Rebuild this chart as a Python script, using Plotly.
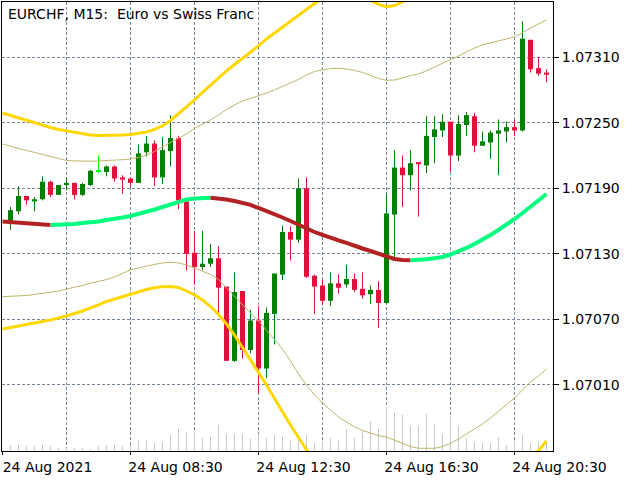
import plotly.graph_objects as go

# bar numbers (15 min bars), candle data
bars = list(range(1, 69))
opens = [1.07160, 1.07169, 1.07183, 1.07178, 1.07180, 1.07196, 1.07184, 1.07193, 1.07195, 1.07184,
         1.07193, 1.07205, 1.07205, 1.07210, 1.07200, 1.07199, 1.07195, 1.07223, 1.07231, 1.07200,
         1.07224, 1.07236, 1.07178, 1.07131, 1.07118, 1.07121, 1.07126, 1.07100, 1.07032, 1.07096,
         1.07042, 1.07069, 1.07025, 1.07075, 1.07111, 1.07150, 1.07143, 1.07190, 1.07110, 1.07101,
         1.07087, 1.07103, 1.07102, 1.07107, 1.07098, 1.07093, 1.07097, 1.07085, 1.07166, 1.07209,
         1.07202, 1.07214, 1.07211, 1.07237, 1.07243, 1.07251, 1.07220, 1.07248, 1.07256, 1.07229,
         1.07232, 1.07240, 1.07242, 1.07246, 1.07243, 1.07326, 1.07300, 1.07296]
highs = [1.07173, 1.07192, 1.07183, 1.07182, 1.07201, 1.07197, 1.07193, 1.07200, 1.07195, 1.07195,
         1.07207, 1.07220, 1.07211, 1.07211, 1.07202, 1.07199, 1.07230, 1.07238, 1.07234, 1.07237,
         1.07257, 1.07238, 1.07179, 1.07151, 1.07151, 1.07139, 1.07137, 1.07100, 1.07113, 1.07096,
         1.07079, 1.07082, 1.07081, 1.07112, 1.07156, 1.07155, 1.07199, 1.07200, 1.07111, 1.07106,
         1.07113, 1.07111, 1.07120, 1.07112, 1.07113, 1.07101, 1.07105, 1.07185, 1.07225, 1.07220,
         1.07225, 1.07214, 1.07256, 1.07256, 1.07258, 1.07251, 1.07257, 1.07260, 1.07259, 1.07242,
         1.07243, 1.07253, 1.07251, 1.07253, 1.07343, 1.07326, 1.07310, 1.07299]
lows = [1.07152, 1.07166, 1.07175, 1.07169, 1.07179, 1.07182, 1.07184, 1.07188, 1.07180, 1.07183,
        1.07192, 1.07204, 1.07201, 1.07196, 1.07185, 1.07191, 1.07195, 1.07219, 1.07192, 1.07194,
        1.07210, 1.07171, 1.07115, 1.07102, 1.07115, 1.07118, 1.07076, 1.07032, 1.07031, 1.07034,
        1.07039, 1.07002, 1.07016, 1.07047, 1.07106, 1.07124, 1.07140, 1.07108, 1.07075, 1.07083,
        1.07082, 1.07094, 1.07099, 1.07095, 1.07089, 1.07084, 1.07062, 1.07084, 1.07124, 1.07173,
        1.07188, 1.07164, 1.07204, 1.07213, 1.07237, 1.07205, 1.07215, 1.07238, 1.07223, 1.07229,
        1.07217, 1.07202, 1.07232, 1.07238, 1.07242, 1.07296, 1.07293, 1.07287]
closes = [1.07170, 1.07183, 1.07179, 1.07180, 1.07196, 1.07184, 1.07193, 1.07195, 1.07184, 1.07194,
          1.07206, 1.07205, 1.07210, 1.07199, 1.07198, 1.07195, 1.07222, 1.07231, 1.07200, 1.07225,
          1.07236, 1.07179, 1.07130, 1.07118, 1.07121, 1.07126, 1.07099, 1.07032, 1.07095, 1.07042,
          1.07069, 1.07025, 1.07076, 1.07112, 1.07150, 1.07143, 1.07190, 1.07109, 1.07100, 1.07087,
          1.07103, 1.07099, 1.07107, 1.07097, 1.07092, 1.07097, 1.07085, 1.07167, 1.07209, 1.07202,
          1.07213, 1.07212, 1.07238, 1.07244, 1.07251, 1.07220, 1.07249, 1.07257, 1.07229, 1.07233,
          1.07241, 1.07243, 1.07246, 1.07243, 1.07327, 1.07299, 1.07295, 1.07294]
volumes = [240, 280, 200, 200, 280, 200, 120, 120, 120, 120, 80, 200, 240, 280, 200, 240, 440, 440, 320, 360,
           640, 920, 760, 760, 520, 600, 1040, 680, 680, 680, 480, 680, 520, 640, 600, 440, 640, 640, 320, 400,
           520, 440, 880, 520, 800, 1200, 920, 1760, 1560, 1440, 1000, 1000, 1480, 1080, 680, 1400, 1000, 520,
           360, 320, 320, 560, 240, 440, 640, 320, 360, 320]

# indicator lines, one value per bar from bar 0
line_bars = list(range(0, 69))
ma_line = [1.071597, 1.071592, 1.071587, 1.071583, 1.071574, 1.071569, 1.071564, 1.071566, 1.071569, 1.071574,
           1.071583, 1.071587, 1.071597, 1.071610, 1.071619, 1.071633, 1.071647, 1.071665, 1.071684, 1.071706,
           1.071729, 1.071752, 1.071780, 1.071798, 1.071807, 1.071812, 1.071814, 1.071809, 1.071798, 1.071784,
           1.071766, 1.071748, 1.071720, 1.071693, 1.071665, 1.071633, 1.071601, 1.071564, 1.071532, 1.071500,
           1.071473, 1.071445, 1.071423, 1.071400, 1.071372, 1.071349, 1.071326, 1.071299, 1.071271, 1.071253,
           1.071244, 1.071241, 1.071244, 1.071250, 1.071260, 1.071271, 1.071294, 1.071322, 1.071354, 1.071391,
           1.071427, 1.071473, 1.071519, 1.071564, 1.071619, 1.071674, 1.071729, 1.071789, 1.071848]
inner_upper = [1.072306, 1.072283, 1.072265, 1.072247, 1.072228, 1.072210, 1.072187, 1.072169, 1.072155, 1.072151,
               1.072148, 1.072148, 1.072151, 1.072153, 1.072157, 1.072162, 1.072169, 1.072183, 1.072205, 1.072237,
               1.072279, 1.072318, 1.072357, 1.072398, 1.072448, 1.072485, 1.072526, 1.072572, 1.072622, 1.072663,
               1.072700, 1.072723, 1.072746, 1.072773, 1.072801, 1.072833, 1.072862, 1.072897, 1.072938, 1.072970,
               1.072984, 1.072997, 1.072999, 1.072993, 1.072979, 1.072961, 1.072933, 1.072906, 1.072888, 1.072892,
               1.072910, 1.072933, 1.072947, 1.072975, 1.073011, 1.073043, 1.073075, 1.073112, 1.073149, 1.073185,
               1.073213, 1.073231, 1.073249, 1.073268, 1.073286, 1.073327, 1.073368, 1.073405, 1.073442]
inner_lower = [1.070908, 1.070910, 1.070914, 1.070919, 1.070928, 1.070937, 1.070948, 1.070960, 1.070978, 1.070992,
               1.071011, 1.071031, 1.071047, 1.071065, 1.071088, 1.071120, 1.071152, 1.071171, 1.071189, 1.071203,
               1.071217, 1.071223, 1.071217, 1.071198, 1.071171, 1.071143, 1.071111, 1.071065, 1.070988, 1.070905,
               1.070832, 1.070759, 1.070685, 1.070603, 1.070521, 1.070429, 1.070319, 1.070200, 1.070099, 1.070008,
               1.069935, 1.069871, 1.069806, 1.069761, 1.069715, 1.069683, 1.069660, 1.069637, 1.069623, 1.069596,
               1.069564, 1.069536, 1.069520, 1.069518, 1.069520, 1.069536, 1.069564, 1.069605, 1.069651, 1.069697,
               1.069742, 1.069797, 1.069861, 1.069925, 1.069980, 1.070054, 1.070127, 1.070182, 1.070246]
outer_upper = [1.072590, 1.072567, 1.072544, 1.072521, 1.072498, 1.072476, 1.072457, 1.072439, 1.072425, 1.072411,
               1.072398, 1.072389, 1.072384, 1.072384, 1.072386, 1.072389, 1.072393, 1.072402, 1.072416, 1.072439,
               1.072471, 1.072521, 1.072581, 1.072645, 1.072709, 1.072778, 1.072846, 1.072910, 1.072975, 1.073034,
               1.073089, 1.073144, 1.073204, 1.073268, 1.073323, 1.073377, 1.073432, 1.073487, 1.073538, 1.073593,
               1.073638, 1.073666, 1.073684, 1.073689, 1.073680, 1.073657, 1.073620, 1.073584, 1.073563, 1.073574,
               1.073608, 1.073657, 1.073707, 1.073771, 1.073844, 1.073918, 1.073991, 1.074064, 1.074137, 1.074211,
               1.074275, 1.074330, 1.074385, 1.074440, 1.074495, 1.074559, 1.074632, 1.074705, 1.074778]
outer_lower = [1.070612, 1.070626, 1.070637, 1.070649, 1.070663, 1.070676, 1.070695, 1.070713, 1.070731, 1.070754,
               1.070777, 1.070802, 1.070832, 1.070864, 1.070887, 1.070910, 1.070933, 1.070951, 1.070974, 1.070990,
               1.071000, 1.071001, 1.070992, 1.070960, 1.070924, 1.070878, 1.070818, 1.070745, 1.070658, 1.070557,
               1.070443, 1.070328, 1.070218, 1.070099, 1.069976, 1.069852, 1.069733, 1.069619, 1.069504, 1.069394,
               1.069294, 1.069202, 1.069120, 1.069046, 1.068982, 1.068927, 1.068882, 1.068845, 1.068808, 1.068781,
               1.068763, 1.068744, 1.068735, 1.068731, 1.068735, 1.068744, 1.068763, 1.068790, 1.068827, 1.068872,
               1.068927, 1.068992, 1.069065, 1.069147, 1.069230, 1.069321, 1.069408, 1.069495, 1.069587]

price_ticks = [1.07010, 1.07070, 1.07130, 1.07190, 1.07250, 1.07310]
time_ticks = [0, 16, 32, 48, 64]
time_labels = ["24 Aug 2021", "24 Aug 08:30", "24 Aug 12:30", "24 Aug 16:30", "24 Aug 20:30"]

UP = "#008000"
DOWN = "#DC143C"
DOJI = "#00FF00"
GRID = "#778899"
FONT = "DejaVu Sans, Verdana, sans-serif"

fig = go.Figure()

# tick volumes at the bottom (own hidden axis)
fig.add_trace(go.Bar(x=bars, y=volumes, width=0.125, marker=dict(color="#C8C8C8", line=dict(width=0)),
                     yaxis="y", hoverinfo="skip"))

# candle bodies
colors, bases, sizes = [], [], []
for o, c in zip(opens, closes):
    colors.append(UP if c > o else DOWN if c < o else DOJI)
    bases.append(min(o, c))
    sizes.append(max(abs(c - o), 0.00001))
fig.add_trace(go.Bar(x=bars, y=sizes, base=bases, width=0.625, marker=dict(color=colors, line=dict(width=0)),
                     yaxis="y2", hoverinfo="skip"))

# wicks
for col in (UP, DOWN, DOJI):
    wx, wy = [], []
    for b, h, l, c in zip(bars, highs, lows, colors):
        if c == col:
            wx += [b, b, None]
            wy += [l, h, None]
    fig.add_trace(go.Scatter(x=wx, y=wy, mode="lines", line=dict(color=col, width=1), yaxis="y2", hoverinfo="skip"))

# bands
for vals, col, w in ((inner_upper, "#BDB76B", 1), (inner_lower, "#BDB76B", 1),
                     (outer_upper, "#FFD700", 3), (outer_lower, "#FFD700", 3)):
    fig.add_trace(go.Scatter(x=line_bars, y=vals, mode="lines", line=dict(color=col, width=w), yaxis="y2",
                             hoverinfo="skip"))

# moving average coloured by slope
runs = []
for i in range(len(ma_line) - 1):
    up = ma_line[i + 1] >= ma_line[i]
    if runs and runs[-1][0] == up:
        runs[-1][1].append(i + 1)
    else:
        runs.append([up, [i, i + 1]])
for up, idx in runs:
    fig.add_trace(go.Scatter(x=[line_bars[i] for i in idx], y=[ma_line[i] for i in idx], mode="lines",
                             line=dict(color="#00FF7F" if up else "#B22222", width=4), yaxis="y2",
                             hoverinfo="skip"))

fig.update_layout(
    width=640, height=480,
    margin=dict(l=2, r=87, t=2, b=29),
    paper_bgcolor="white", plot_bgcolor="white",
    showlegend=False, barmode="overlay",
    font=dict(family=FONT, size=14, color="black"),
    xaxis=dict(range=[-0.0625, 68.8125], tickvals=time_ticks, ticktext=time_labels,
               ticks="outside", ticklen=3, tickcolor="black", ticklabelshift=45,
               showline=True, linecolor="black", linewidth=1, mirror=True,
               showgrid=True, gridcolor=GRID, griddash="3px,2px", gridwidth=1, zeroline=False,
               minor=dict(tickvals=[t + 8 for t in time_ticks[:-1]], showgrid=True, gridcolor=GRID,
                          griddash="3px,2px", gridwidth=1, ticks="")),
    yaxis=dict(range=[0, 17960], visible=False),
    yaxis2=dict(overlaying="y", side="right", range=[1.069495, 1.073606],
                tickvals=price_ticks, tickformat=".5f",
                ticks="outside", ticklen=5, tickcolor="black",
                showline=True, linecolor="black", linewidth=1, mirror=True,
                showgrid=True, gridcolor=GRID, griddash="3px,2px", gridwidth=1, zeroline=False),
)

fig.add_annotation(text="EURCHF, M15:\u00a0 Euro vs Swiss Franc", xref="paper", yref="paper",
                   x=0, y=1, xanchor="left", yanchor="top", xshift=4, yshift=-2,
                   showarrow=False, font=dict(family=FONT, size=14, color="black"))

# the page body has a default 8px margin; drop it so the chart sits at the window corner
fig.write_html("out.html", config={"displayModeBar": False},
               post_script="document.body.style.margin='0px';")
